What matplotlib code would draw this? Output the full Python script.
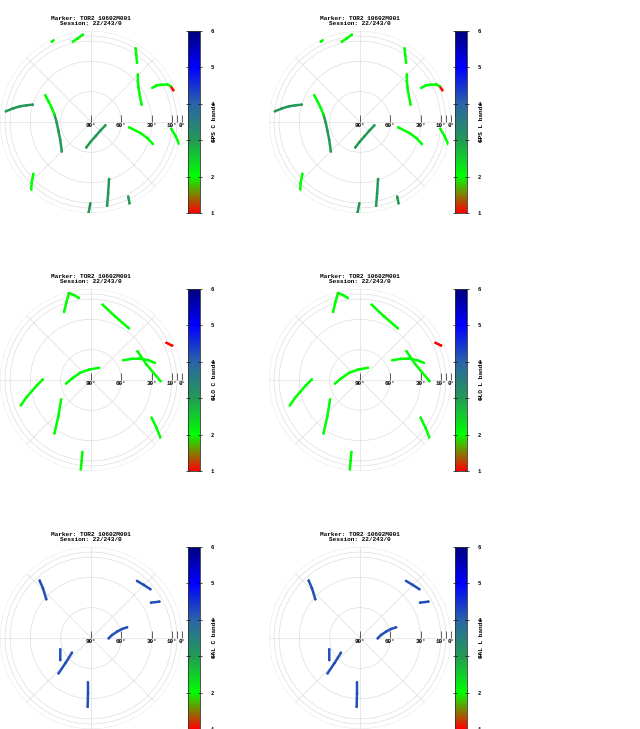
import numpy as np
import matplotlib
matplotlib.use("Agg")
import matplotlib.pyplot as plt
from matplotlib.colors import LinearSegmentedColormap, Normalize
from matplotlib.cm import ScalarMappable
from matplotlib.transforms import offset_copy

# ---------------- data ----------------
TITLE = "Marker: TOR2 10602M001\nSession: 22/243/0"
SYSTEMS = ["GPS", "GLO", "GAL"]
BANDS = ["C", "L"]
ring_elev = [90, 60, 30, 10, 5, 0]
ring_labels = ["90°", "60°", "30°", "10°", "", "0°"]
cbar_ticks = [1, 2, 3, 4, 5, 6]
spoke_az = [0, 45, 90, 135, 180, 225, 270, 315]

# each track: (azimuth deg, elevation deg, value per point)
gps_tracks = [
    ([334.0, 335.3], [1.6, 1.1], [2, 2]),
    ([347.3, 351.1, 354.7], [8.5, 6.2, 3.2], [2, 2, 2]),
    ([31.2, 34.2, 37.9], [4.9, 10.4, 15.7], [2, 2, 2]),
    ([44.6, 48.9, 54.3, 62.2, 71.0], [24.0, 28.5, 32.1, 35.3, 37.1], [2, 2, 2, 2, 2]),
    ([60.9, 60.9, 61.9, 63.8, 65.8, 68.9], [20.6, 15.7, 11.9, 5.9, 3.6, 2.7], [2, 2, 2, 2, 2, 1]),
    ([277.2, 280.0, 282.5, 284.6, 286.6], [5.2, 12.0, 18.1, 24.3, 29.9], [3, 3, 3, 3, 3]),
    ([300.3, 296.0, 289.7, 281.4, 268.3, 253.9, 239.9, 224.7],
     [37.5, 43.2, 48.8, 53.2, 56.2, 56.6, 54.8, 49.0], [2, 2, 2, 2, 3, 3, 3, 3]),
    ([190.4, 181.9, 163.2, 132.9, 103.1], [64.4, 70.1, 75.1, 77.4, 75.4], [3, 3, 3, 3, 3]),
    ([98.0, 102.6, 105.9, 109.6], [51.9, 39.8, 32.1, 25.0], [2, 2, 2, 2]),
    ([94.8, 99.6, 104.0], [10.3, 5.0, 0.3], [2, 2, 2]),
    ([228.0, 224.4, 221.3], [13.3, 6.2, 0.3], [2, 2, 2]),
    ([162.4, 166.5, 169.1], [30.9, 17.5, 5.7], [3, 3, 3]),
    ([153.5, 154.7], [7.5, 0.5], [3, 3]),
    ([180.5, 181.5], [9.5, 0.3], [3, 3]),
]

glo_tracks = [
    ([345.8, 342.8, 338.4], [1.3, 8.6, 17.6], [1, 2, 2]),
    ([345.8, 348.7, 351.5], [1.3, 4.3, 8.0], [2, 2, 2]),
    ([8.8, 20.6, 36.2], [14.6, 22.7, 26.6], [2, 2, 2]),
    ([63.8, 67.0], [6.8, 2.8], [1, 1]),
    ([58.5, 62.5, 66.3, 70.9, 75.0], [52.6, 44.8, 37.2, 30.1, 24.6], [2, 2, 2, 2, 2]),
    ([58.3, 74.4, 91.0], [35.9, 33.0, 21.2], [2, 2, 2]),
    ([262.0, 273.5, 303.1, 351.0, 33.3], [65.1, 70.9, 77.0, 79.5, 75.6], [2, 2, 2, 2, 2]),
    ([270.6, 264.2, 259.3, 254.7, 250.1], [42.3, 36.1, 30.4, 23.5, 16.2], [2, 2, 2, 2, 2]),
    ([237.0, 222.1, 214.4], [54.7, 41.9, 26.0], [2, 2, 2]),
    ([121.9, 126.1, 129.7], [19.4, 9.8, 0.7], [2, 2, 2]),
    ([186.8, 186.6, 186.5], [18.3, 9.4, 0.4], [2, 2, 2]),
]

gal_tracks = [
    ([318.2, 316.0, 310.9], [13.8, 21.6, 31.5], [4.2, 4.2, 4.2]),
    ([38.9, 44.8, 50.6], [17.5, 16.0, 14.0], [4.2, 4.2, 4.2]),
    ([59.5, 62.0], [21.1, 13.4], [4.2, 4.2]),
    ([91.1, 81.9, 76.3, 73.8, 73.5], [72.5, 69.0, 63.5, 58.0, 52.8], [4.2, 4.2, 4.2, 4.2, 4.2]),
    ([249.7, 234.3], [57.6, 52.6], [4.2, 4.2]),
    ([232.3, 225.4, 222.5], [66.2, 54.3, 42.6], [4.2, 4.2, 4.2]),
    ([183.9, 183.1, 182.8], [46.0, 35.1, 21.9], [4.2, 4.2, 4.2]),
]

tracks_by_system = {"GPS": gps_tracks, "GLO": glo_tracks, "GAL": gal_tracks}

# ---------------- style ----------------
cmap = LinearSegmentedColormap.from_list(
    "bands",
    [(0.0, "#ff0000"), (0.2, "#00ff00"), (0.4, "#229a55"),
     (0.6, "#2a64a8"), (0.8, "#0000ff"), (1.0, "#000080")])
norm = Normalize(vmin=1, vmax=6)
FONT = dict(family="Liberation Mono", weight="bold")

W, H = 640, 729
fig = plt.figure(figsize=(W / 100, H / 100), dpi=100)
fig.patch.set_facecolor("white")

col_x = [0, 269]
cbar_x = [188, 455]
row_top = [31, 289, 547]
SIZE = 182


def draw_track(ax, az, el, val):
    th = np.deg2rad(az)
    r = 90 - np.asarray(el, dtype=float)
    for i in range(len(th) - 1):
        ax.plot(th[i:i + 2], r[i:i + 2], color=cmap(norm(val[i + 1])),
                lw=1.8, solid_capstyle="round", zorder=3)
    ax.scatter(th, r, c=val, cmap=cmap, norm=norm, s=3, linewidths=0, zorder=4)


for ri, system in enumerate(SYSTEMS):
    for ci, band in enumerate(BANDS):
        left = col_x[ci] / W
        bottom = (H - row_top[ri] - SIZE) / H
        ax = fig.add_axes([left, bottom, SIZE / W, SIZE / H], projection="polar")
        ax.set_theta_zero_location("N")
        ax.set_theta_direction(-1)
        ax.set_ylim(0, 90)
        rings = 90 - np.array(ring_elev)
        ax.set_yticks(rings)
        ax.set_yticklabels([])
        ax.set_xticks(np.deg2rad(spoke_az))
        ax.set_xticklabels([])
        ax.grid(color="#dedede", lw=0.5)
        ax.spines["polar"].set_visible(False)
        ax.tick_params(length=0)

        for az, el, val in tracks_by_system[system]:
            draw_track(ax, az, el, val)

        # radial tick marks and labels along the east direction
        ax.plot(np.full(len(rings), np.pi / 2), rings, ls="none", marker=2,
                ms=5, mew=0.6, color="#444444", clip_on=False, zorder=5)
        tr = offset_copy(ax.transData, fig=fig, y=-1.0, units="points")
        for rr, lab in zip(rings, ring_labels):
            ax.text(np.pi / 2, rr, lab, ha="center", va="top", fontsize=4.2,
                    transform=tr, zorder=6, clip_on=False, **FONT)

        ax.set_title(TITLE, fontsize=4.4, pad=4.5, linespacing=0.95, **FONT)

        cax = fig.add_axes([cbar_x[ci] / W, bottom, 12 / W, SIZE / H])
        cb = fig.colorbar(ScalarMappable(norm=norm, cmap=cmap), cax=cax,
                          ticks=cbar_ticks)
        cb.outline.set_edgecolor("#333333")
        cb.outline.set_linewidth(0.6)
        cax.tick_params(labelsize=4, direction="inout", length=3, width=0.5,
                        left=True, right=True, pad=6)
        for t in cax.get_yticklabels():
            t.set_fontfamily(FONT["family"])
            t.set_fontweight("bold")
        cb.set_label(f"{system} {band} bands", fontsize=4.4, labelpad=-1, **FONT)

fig.savefig("out.png", dpi=100, facecolor="white")
